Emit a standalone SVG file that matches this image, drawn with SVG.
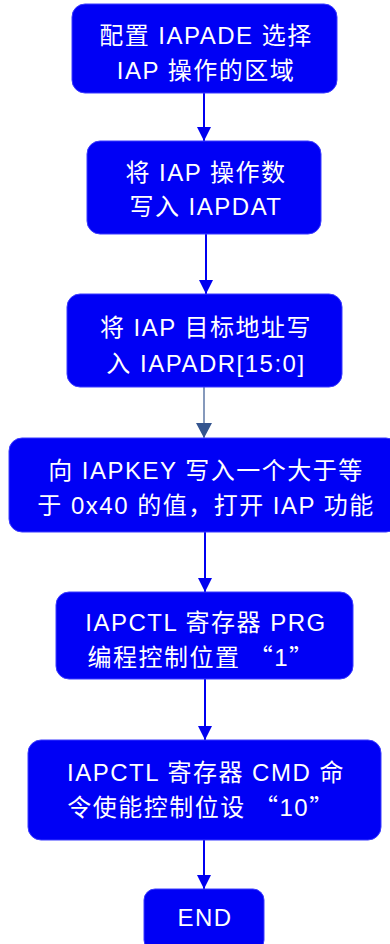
<svg xmlns="http://www.w3.org/2000/svg" width="390" height="944" viewBox="0 0 390 944">
<defs>
<style>
.box{fill:#0000f5;stroke:#3b3bff;stroke-width:1}
.t{font-family:"Liberation Sans","Noto Sans CJK SC",Arial,sans-serif;font-size:24px;fill:#ffffff;text-anchor:middle;letter-spacing:1.5px}
.q{font-family:"Noto Sans CJK SC",sans-serif}
.c{stroke:#0000f0;stroke-width:2;fill:none}
.c2{stroke:#34558f;stroke-width:1.2;fill:none}
</style>
<marker id="ah" markerWidth="14" markerHeight="14" refX="14" refY="7" orient="auto" markerUnits="userSpaceOnUse"><path d="M0,0 L14,7 L0,14 Z" fill="#0000f0"/></marker>
<marker id="ah2" markerWidth="16" markerHeight="16" refX="15" refY="8" orient="auto" markerUnits="userSpaceOnUse"><path d="M0,0 L15,8 L0,16 Z" fill="#34558f"/></marker>
</defs>
<g id="connectors">
<line class="c" x1="204" y1="93" x2="204" y2="141" marker-end="url(#ah)"/>
<line class="c" x1="206" y1="234" x2="206" y2="294" marker-end="url(#ah)"/>
<line class="c2" x1="204" y1="387" x2="204" y2="438" marker-end="url(#ah2)"/>
<line class="c" x1="205" y1="532" x2="205" y2="592" marker-end="url(#ah)"/>
<line class="c" x1="205" y1="679" x2="205" y2="740" marker-end="url(#ah)"/>
<line class="c" x1="204" y1="840" x2="204" y2="889" marker-end="url(#ah)"/>
</g>
<g id="n1"><rect class="box" x="72" y="4" width="265" height="89" rx="13"/>
<text class="t" x="206" y="44">配置 IAPADE 选择</text><text class="t" x="206" y="79">IAP 操作的区域</text></g>
<g id="n2"><rect class="box" x="87" y="141" width="234" height="93" rx="13"/>
<text class="t" x="206" y="181">将 IAP 操作数</text><text class="t" x="206" y="215">写入 IAPDAT</text></g>
<g id="n3"><rect class="box" x="67" y="294" width="275" height="93" rx="13"/>
<text class="t" x="206" y="336">将 IAP 目标地址写</text><text class="t" x="206" y="372">入 IAPADR[15:0]</text></g>
<g id="n4"><rect class="box" x="9" y="438" width="390" height="94" rx="13"/>
<text class="t" x="206" y="479">向 IAPKEY 写入一个大于等</text><text class="t" x="206" y="514">于 0x40 的值，打开 IAP 功能</text></g>
<g id="n5"><rect class="box" x="56" y="592" width="297" height="87" rx="13"/>
<text class="t" x="206" y="631">IAPCTL 寄存器 PRG</text><text class="t" x="201" y="666">编程控制位置 <tspan class="q">“</tspan>1<tspan class="q">”</tspan></text></g>
<g id="n6"><rect class="box" x="28" y="740" width="353" height="100" rx="13"/>
<text class="t" x="206" y="781">IAPCTL 寄存器 CMD 命</text><text class="t" x="201" y="816">令使能控制位设 <tspan class="q">“</tspan>10<tspan class="q">”</tspan></text></g>
<g id="n7"><rect class="box" x="144" y="889" width="120" height="62" rx="11"/>
<text class="t" x="205" y="926">END</text></g>
</svg>
